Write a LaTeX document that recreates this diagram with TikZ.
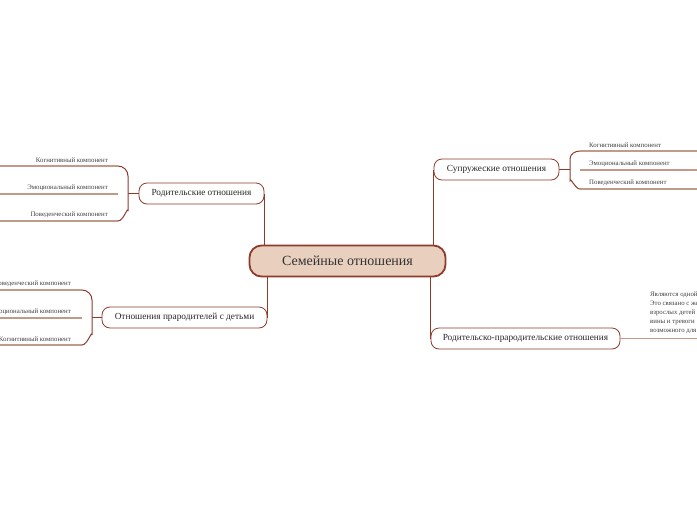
\documentclass[tikz,border=0pt]{standalone}
\usepackage{fontspec}
\setmainfont{Liberation Serif}
\usetikzlibrary{arrows}
\definecolor{rim}{HTML}{8E3B2B}
\definecolor{paleskin}{HTML}{E8CFBE}
\definecolor{twigc}{HTML}{C29A8A}

\begin{document}
\begin{tikzpicture}[x=1pt,y=-1pt,
  central node/.style={rounded corners=12pt,draw=rim,line width=1.8pt,fill=paleskin,
    minimum width=196pt,minimum height=31pt,text=black!80,font=\fontsize{14}{16}\selectfont},
  topic node/.style={rounded corners=8pt,draw=rim,line width=0.8pt,fill=white,
    minimum height=21pt,text=black!85,font=\fontsize{9.3}{11}\selectfont},
  leaf/.style={inner sep=1pt,text=black!75,font=\fontsize{6.8}{8}\selectfont},
  branch/.style={draw=rim,line width=1pt},
  twig/.style={draw=twigc,line width=1.2pt}]

\clip (0,0) rectangle (697,520);

% centre
\node[central node] (family) at (347.5,261) {Семейные отношения};

% topics
\node[topic node,minimum width=125pt] (parental) at (201.5,193.5) {Родительские отношения};
\node[topic node,minimum width=165pt] (grand) at (184.5,317.5) {Отношения прародителей с детьми};
\node[topic node,minimum width=125pt] (spouses) at (496.5,169.5) {Супружеские отношения};
\node[topic node,minimum width=189pt] (gener) at (525.5,338.5) {Родительско-прародительские отношения};

\draw[branch] (parental.east) -- (parental.east |- family.north);
\draw[branch] (grand.east) -- (grand.east |- family.south);
\draw[branch] (spouses.west) -- (spouses.west |- family.north);
\draw[branch] (gener.west) -- (gener.west |- family.south);

% Родительские отношения
\coordinate (pj) at (128,193.5);
\draw[branch] (parental.west) -- (pj);
\foreach \y/\name/\txt in {166/pcog/Когнитивный компонент,194/pemo/Эмоциональный компонент,221/pbeh/Поведенческий компонент}{
  \node[leaf,anchor=south east] (\name) at (109,\y-2) {\txt};
  \draw[twig] (118,\y) -- (0,\y);
}
\draw[branch] (118,166) to[out=0,in=90] (pj |- 0,176) -- (pj |- 0,211) to[out=90,in=0] (118,221);

% Отношения прародителей с детьми
\coordinate (gj) at (92,317.5);
\draw[branch] (grand.west) -- (gj);
\foreach \y/\name/\txt in {290/gbeh/Поведенческий компонент,318/gemo/Эмоциональный компонент,345/gcog/Когнитивный компонент}{
  \node[leaf,anchor=south east] (\name) at (72,\y-2) {\txt};
  \draw[twig] (82,\y) -- (0,\y);
}
\draw[branch] (82,290) to[out=0,in=90] (gj |- 0,300) -- (gj |- 0,335) to[out=90,in=0] (82,345);

% Супружеские отношения
\coordinate (sj) at (570,169.5);
\draw[branch] (spouses.east) -- (sj);
\foreach \y/\name/\txt in {151/scog/Когнитивный компонент,170/semo/Эмоциональный компонент,189/sbeh/Поведенческий компонент}{
  \node[leaf,anchor=south west] (\name) at (588,\y-2) {\txt};
  \draw[twig] (580,\y) -- (697,\y);
}
\draw[branch] (580,151) to[out=180,in=90] (sj |- 0,159) -- (sj |- 0,181) to[out=90,in=180] (580,189);

% Родительско-прародительские отношения
\coordinate (gtail) at (697,338.5);
\draw[twig] (gener.east) -- (gtail);
\node[leaf,anchor=north west,align=left,font=\fontsize{6.8}{8.8}\selectfont] (gnote) at (649,291)
  {Являются одной из важнейших\\Это связано с желанием\\взрослых детей избежать\\вины и тревоги\\возможного для них};

\end{tikzpicture}
\end{document}
